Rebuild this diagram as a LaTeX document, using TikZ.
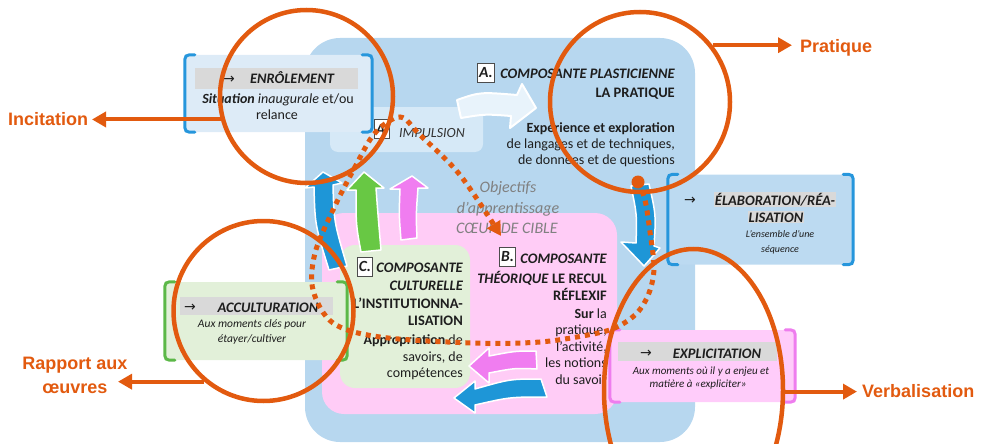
\documentclass[tikz,border=0pt]{standalone}
\usepackage{fontspec}
\setmainfont{Carlito}
\newfontfamily\labfont{Liberation Sans}
\newfontfamily\symfont{DejaVu Sans}
\usetikzlibrary{arrows.meta,shapes.geometric}
\definecolor{bigblue}{RGB}{183,215,239}
\definecolor{stripblue}{RGB}{214,233,247}
\definecolor{enrfill}{RGB}{221,235,247}
\definecolor{brblue}{RGB}{38,150,220}
\definecolor{pinkc}{RGB}{255,204,246}
\definecolor{greenc}{RGB}{226,240,217}
\definecolor{brgreen}{RGB}{92,184,72}
\definecolor{brpink}{RGB}{238,125,238}
\definecolor{elabfill}{RGB}{188,218,241}
\definecolor{explfill}{RGB}{255,204,250}
\definecolor{arrblue}{RGB}{30,150,215}
\definecolor{arrgreen}{RGB}{104,200,68}
\definecolor{arrpink}{RGB}{240,125,240}
\definecolor{orng}{RGB}{226,90,15}
\definecolor{grayt}{RGB}{128,128,128}
\definecolor{hdgray}{RGB}{217,217,217}
\definecolor{txt}{RGB}{30,30,30}
\definecolor{whitearr}{RGB}{232,243,251}
\newcommand\mybrackets[2]{%
  \draw[#2, line width=3pt, line cap=round] ([xshift=10pt]#1.north west) .. controls (#1.north west) .. ([yshift=-10pt]#1.north west) -- ([yshift=10pt]#1.south west) .. controls (#1.south west) .. ([xshift=10pt]#1.south west);
  \draw[#2, line width=3pt, line cap=round] ([xshift=-10pt]#1.north east) .. controls (#1.north east) .. ([yshift=-10pt]#1.north east) -- ([yshift=10pt]#1.south east) .. controls (#1.south east) .. ([xshift=-10pt]#1.south east);}
\begin{document}
\begin{tikzpicture}[x=1pt, y=-1pt,
  every node/.style={inner sep=0pt, text=txt},
  hd/.style={font=\fontsize{14.5}{17}\selectfont\bfseries\itshape},
  hdu/.style={font=\fontsize{14.5}{17}\selectfont\bfseries},
  bd/.style={font=\fontsize{14}{16}\selectfont},
  sm/.style={font=\fontsize{11.5}{13}\selectfont\itshape},
  gr/.style={font=\fontsize{16}{19}\selectfont\itshape, text=grayt},
  lab/.style={font=\labfont\fontsize{18}{21}\selectfont\bfseries, text=orng},
  oarrow/.style={draw=orng, line width=4pt, -{Triangle[length=14pt,width=15pt]}},
  letterbox/.style={draw=black!70, fill=white, line width=0.6pt, inner xsep=1.5pt, minimum height=19pt, font=\fontsize{15.5}{17}\selectfont\bfseries\itshape},
  ocirc/.style={circle, draw=orng, line width=4.5pt, inner sep=0pt},
  fat/.style={draw=white, line width=1.5pt, line join=round},
  hdbar/.style={fill=hdgray},
  arrsym/.style={font=\symfont\fontsize{14}{16}\selectfont}]
\useasboundingbox (0,0) rectangle (983,444);
% background shapes
\fill[bigblue, rounded corners=35pt] (305,38) rectangle (695,442);
\node[fill=stripblue, rounded corners=8pt, minimum width=153pt, minimum height=45pt] (strip) at (406.5,129.5) {};
\fill[pinkc, rounded corners=22pt] (322,213) rectangle (617,414);
\fill[greenc, rounded corners=15pt] (340,245) rectangle (470,388);
% fat arrows
\filldraw[fill=whitearr, fat, line width=2pt] (457,100) .. controls (480,92) .. (517,95) -- (522,84) -- (536,108) -- (510,128) -- (511,116) .. controls (485,114) .. (461,118) -- cycle;
\filldraw[fill=arrblue, fat] (323,172) -- (342,183) -- (333,185) .. controls (334,222) .. (347,266) -- (329,270) .. controls (315,225) .. (314,187) -- (305,188) -- cycle;
\filldraw[fill=arrgreen, fat] (364,172) -- (384,188) -- (376,188) .. controls (378,215) .. (381,250) -- (361,252) .. controls (356,225) .. (356,190) -- (347,190) -- cycle;
\filldraw[fill=arrpink, fat] (412,176) -- (428,188) -- (418,188) .. controls (416,215) .. (417,238) -- (401,240) .. controls (399,215) .. (400,189) -- (390,189) -- cycle;
\filldraw[fill=arrblue, fat] (631,186) .. controls (637,215) .. (636,243) -- (621,242) -- (644,266) -- (660,248) -- (654,246) .. controls (656,215) .. (649,184) -- cycle;
\filldraw[fill=arrpink, fat] (536,351) .. controls (515,351) .. (489,356) -- (489,348) -- (469,366) -- (489,383) -- (489,373) .. controls (515,368) .. (537,369) -- cycle;
\filldraw[fill=arrblue, fat] (541,379) .. controls (510,379) .. (475,389) -- (475,381) -- (454,398) -- (475,413) -- (475,405) .. controls (510,397) .. (547,397) -- cycle;
% A' impulsion
\node[letterbox] (aprime) at (382,129) {A’};
\node[font=\fontsize{14}{17}\selectfont\itshape, anchor=base west, text=black!80] (imp) at (399,137) {IMPULSION};
% A
\node[letterbox] (aA) at (486,72.5) {A.};
\node[hd, anchor=base east] (a1) at (675,78) {COMPOSANTE PLASTICIENNE};
\node[hdu, anchor=base east] (a2) at (675,98) {LA PRATIQUE};
\node[bd, anchor=base east] (a3) at (675,132) {\textbf{Expérience et exploration}};
\node[bd, anchor=base east] (a4) at (675,148) {de langages et de techniques,};
\node[bd, anchor=base east] (a5) at (675,164) {de données et de questions};
% objectifs
\node[gr, anchor=base] (o1) at (508,192) {Objectifs};
\node[gr, anchor=base] (o2) at (508,213) {d’apprentissage};
\node[gr, anchor=base] (o3) at (507,233) {CŒUR DE CIBLE};
% B
\node[letterbox] (bB) at (507.5,257) {B.};
\node[hd, anchor=base east] (b1) at (607,263) {COMPOSANTE};
\node[hdu, anchor=base east] (b2) at (607,283) {\textit{THÉORIQUE} LE RECUL};
\node[hdu, anchor=base east] (b3) at (607,300) {RÉFLEXIF};
\node[bd, anchor=base east] (b4) at (607,318) {\textbf{Sur} la};
\node[bd, anchor=base east] (b5) at (607,334) {pratique,};
\node[bd, anchor=base east] (b6) at (607,351) {l’activité,};
\node[bd, anchor=base east] (b7) at (607,367) {les notions};
\node[bd, anchor=base east] (b8) at (607,384) {du savoir};
% C
\node[letterbox] (cC) at (365,266.5) {C.};
\node[hd, anchor=base east] (k1) at (463,272) {COMPOSANTE};
\node[hd, anchor=base east] (k2) at (463,290) {CULTURELLE};
\node[hdu, anchor=base east] (k3) at (463,308) {L’INSTITUTIONNA-};
\node[hdu, anchor=base east] (k4) at (463,325) {LISATION};
\node[bd, anchor=base east] (k5) at (463,344) {\textbf{Appropriation} de};
\node[bd, anchor=base east] (k6) at (463,361) {savoirs, de};
\node[bd, anchor=base east] (k7) at (463,377) {compétences};
% ENROLEMENT
\node[fill=enrfill, rounded corners=6pt, minimum width=187pt, minimum height=77pt] (enr) at (278.5,93.5) {};
\mybrackets{enr}{brblue}
\node[hdbar, minimum width=163pt, minimum height=21pt] (enrbar) at (276.5,78.5) {};
\node[arrsym, anchor=base] (enrarr) at (229,84) {→};
\node[hd, anchor=base] (enrt) at (292,84) {ENRÔLEMENT};
\node[bd, anchor=base] (enr2) at (278,103) {\textbf{\textit{Situation}} \textit{inaugurale} et/ou};
\node[bd, anchor=base] (enr3) at (277,119) {relance};
% ELABORATION
\node[fill=elabfill, rounded corners=6pt, minimum width=185pt, minimum height=90pt] (elab) at (760.5,219.5) {};
\mybrackets{elab}{brblue}
\node[arrsym, anchor=base] (elabarr) at (690,204) {→};
\node[hd, fill=hdgray, inner sep=1pt, anchor=base] (e1) at (775,205) {ÉLABORATION/RÉA-};
\node[hd, fill=hdgray, inner sep=1pt, anchor=base] (e2) at (776,222) {LISATION};
\node[sm, font=\fontsize{10}{12}\selectfont\itshape, anchor=base] (e3) at (780,237) {L’ensemble d’une};
\node[sm, font=\fontsize{10}{12}\selectfont\itshape, anchor=base] (e4) at (780,252) {séquence};
% ACCULTURATION
\node[fill=greenc, rounded corners=6pt, minimum width=182pt, minimum height=78pt] (acc) at (256,321) {};
\mybrackets{acc}{brgreen}
\node[hdbar, minimum width=153pt, minimum height=18pt] (accbar) at (256.5,306) {};
\node[arrsym, anchor=base] (accarr) at (190,311) {→};
\node[hd, anchor=base] (acct) at (268,312) {ACCULTURATION};
\node[sm, anchor=base] (acc2) at (252,327) {Aux moments clés pour};
\node[sm, anchor=base] (acc3) at (252,342) {étayer/cultiver};
% EXPLICITATION
\node[fill=explfill, rounded corners=6pt, minimum width=185pt, minimum height=72pt] (expl) at (702.5,366) {};
\mybrackets{expl}{brpink}
\node[hdbar, minimum width=159pt, minimum height=19pt] (explbar) at (697.5,351.5) {};
\node[arrsym, anchor=base] (explarr) at (646,357) {→};
\node[hd, anchor=base] (explt) at (717,358) {EXPLICITATION};
\node[sm, font=\fontsize{11}{13}\selectfont\itshape, anchor=base] (expl2) at (701,374) {Aux moments où il y a enjeu et};
\node[sm, font=\fontsize{11}{13}\selectfont\itshape, anchor=base] (expl3) at (698,387) {matière à «expliciter»};
% dotted loop
\node[circle, fill=orng, minimum size=13pt] (dot) at (638,182) {};
\draw[orng, line width=5pt, dash pattern=on 5pt off 5pt, -{Triangle[length=14pt,width=15pt]}] plot[smooth, tension=0.55] coordinates {(dot.center) (645,200) (650,232) (654,268) (649,293) (637,313) (617,327) (593,334) (540,342) (473,343) (380,337) (333,323) (313,290) (315,253) (333,210) (355,167) (375,133) (400,117) (420,135) (460,175) (501,236)};
% orange circles
\node[ocirc, minimum size=173pt] (oc1) at (306.5,96.5) {};
\node[ocirc, minimum size=180pt] (oc2) at (640,102) {};
\node[ocirc, minimum size=180pt] (oc3) at (263.5,311) {};
\node[ellipse, draw=orng, line width=4.5pt, inner sep=0pt, minimum width=179pt, minimum height=282pt] (oc4) at (693.5,390) {};
% labels and connectors
\node[lab, anchor=base west] (linc) at (8,125) {Incitation};
\coordinate (incend) at (92,119);
\draw[oarrow] (oc1.195) -- (oc1.195 -| incend);
\node[lab, anchor=base west] (lprat) at (800,53) {Pratique};
\coordinate (pratend) at (792,47);
\draw[oarrow] (oc2.38) -- (oc2.38 -| pratend);
\node[lab, anchor=base] (lrap1) at (75,369) {Rapport aux};
\node[lab, anchor=base] (lrap2) at (75,393) {œuvres};
\coordinate (rapend) at (118,381);
\draw[oarrow] (oc3.230) -- (oc3.230 -| rapend);
\node[lab, anchor=base west] (lverb) at (862,397) {Verbalisation};
\coordinate (verbend) at (857,392);
\draw[oarrow] (oc4.-1) -- (oc4.-1 -| verbend);
\end{tikzpicture}
\end{document}
